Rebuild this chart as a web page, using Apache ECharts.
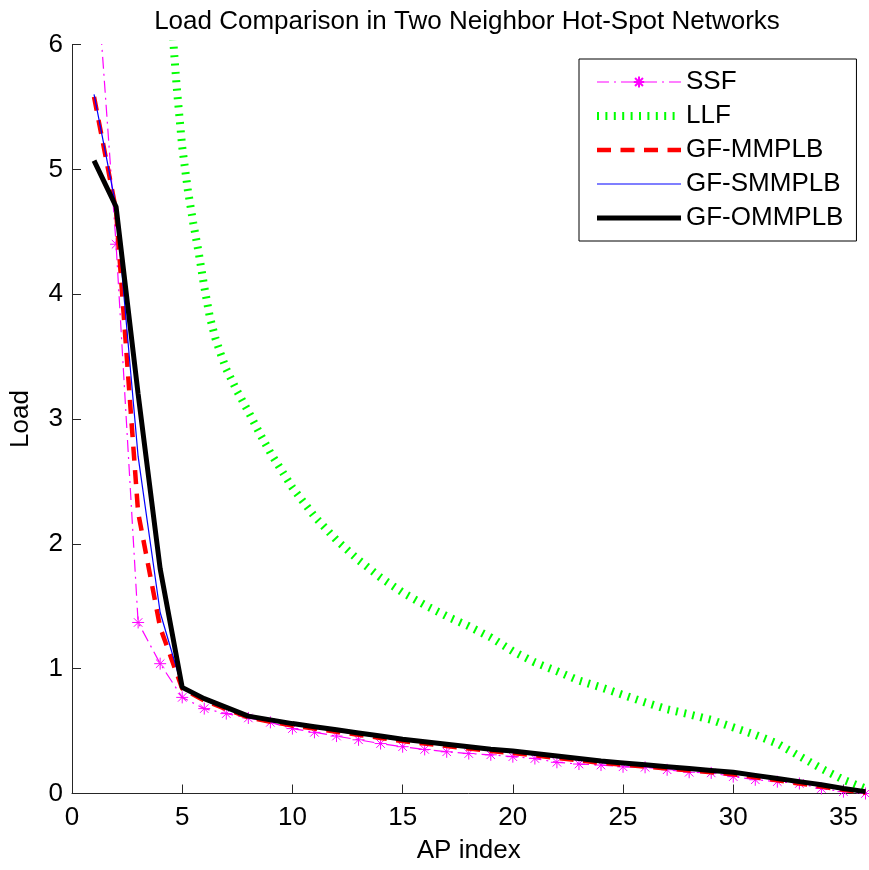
<!DOCTYPE html>
<html>
<head>
<meta charset="utf-8">
<script src="https://cdn.jsdelivr.net/npm/echarts@6/dist/echarts.min.js"></script>
<style>
html,body{margin:0;padding:0;background:#fff;}
#chart{width:869px;height:870px;}
</style>
</head>
<body>
<div id="chart"></div>
<script>
// ---- data ----
const titleText = 'Load Comparison in Two Neighbor Hot-Spot Networks';
const xName = 'AP index';
const yName = 'Load';
const seriesNames = ['SSF', 'LLF', 'GF-MMPLB', 'GF-SMMPLB', 'GF-OMMPLB'];
const xTicks = [0, 5, 10, 15, 20, 25, 30, 35];
const yTicks = [0, 1, 2, 3, 4, 5, 6];

const apIndex = [1,2,3,4,5,6,7,8,9,10,11,12,13,14,15,16,17,18,19,20,21,22,23,24,25,26,27,28,29,30,31,32,33,34,35,36];

const ssf = [6.86,4.40,1.37,1.04,0.77,0.68,0.64,0.605,0.57,0.52,0.49,0.46,0.43,0.40,0.375,0.353,0.334,0.32,0.31,0.295,0.28,0.25,0.236,0.228,0.214,0.21,0.19,0.17,0.165,0.135,0.11,0.095,0.08,0.04,0.015,0.0];

const llfX = [4.5,4.75,5.0,5.25,5.5,5.75,6.0,6.25,6.5,6.75,7.0,7.5,8.0,8.5,9,10,11,12,13,14,15,16,17,18,19,20,21,22,23,24,25,26,27,28,29,30,31,32,33,34,35,36];
const llfY = [6.25,5.66,5.18,4.84,4.57,4.33,4.06,3.82,3.65,3.52,3.40,3.22,3.06,2.89,2.73,2.45,2.22,2.03,1.87,1.73,1.61,1.51,1.42,1.34,1.25,1.14,1.05,0.98,0.905,0.85,0.79,0.73,0.675,0.635,0.59,0.53,0.47,0.40,0.30,0.20,0.11,0.04];

const mmplb = [5.58,4.67,2.25,1.33,0.84,0.745,0.675,0.61,0.575,0.545,0.52,0.495,0.47,0.445,0.42,0.40,0.38,0.36,0.34,0.325,0.305,0.285,0.265,0.245,0.23,0.215,0.20,0.185,0.17,0.155,0.13,0.105,0.08,0.055,0.03,0.005];
const smmplb = [5.60,4.70,2.70,1.45,0.85,0.75,0.68,0.615,0.58,0.55,0.525,0.50,0.475,0.45,0.425,0.405,0.385,0.365,0.345,0.33,0.31,0.29,0.27,0.25,0.235,0.22,0.205,0.19,0.175,0.16,0.135,0.11,0.085,0.06,0.035,0.01];
const ommplb = [5.07,4.70,3.20,1.80,0.85,0.76,0.69,0.62,0.59,0.56,0.535,0.51,0.485,0.46,0.435,0.415,0.395,0.375,0.355,0.34,0.32,0.30,0.28,0.26,0.245,0.23,0.215,0.20,0.185,0.17,0.145,0.12,0.095,0.07,0.04,0.015];

// ---- build ----
const pairs = (xs, ys) => xs.map((x, i) => [x, ys[i]]);
const FONT = '"Liberation Sans", Arial, Helvetica, sans-serif';
const AXIS_COLOR = '#262626';
const asterisk = 'path://M5,0L5,10M0,5L10,5M1.46,1.46L8.54,8.54M8.54,1.46L1.46,8.54';

const legendData = seriesNames.map((n, i) => i === 0
  ? {name: n}
  : {name: n, itemStyle: {opacity: 0}});

const chart = echarts.init(document.getElementById('chart'), null, {renderer: 'canvas'});
chart.setOption({
  animation: false,
  backgroundColor: '#fff',
  title: {
    text: titleText,
    left: 462,
    textAlign: 'center',
    top: 4,
    textStyle: {fontFamily: FONT, fontSize: 26, fontWeight: 'normal', color: '#000'}
  },
  grid: {left: 71, top: 44.5, width: 794.5, height: 749, containLabel: false, show: false},
  legend: {
    orient: 'vertical',
    left: 579,
    top: 59,
    padding: [10, 13, 10, 14],
    itemGap: 8,
    itemWidth: 84,
    itemHeight: 14,
    borderColor: '#000',
    borderWidth: 1,
    backgroundColor: '#fff',
    lineStyle: {width: 'inherit'},
    data: legendData,
    textStyle: {fontFamily: FONT, fontSize: 26, color: '#000', lineHeight: 26}
  },
  xAxis: {
    type: 'value',
    min: 0, max: 36,
    name: xName,
    nameLocation: 'middle',
    nameGap: 44,
    nameTextStyle: {fontFamily: FONT, fontSize: 26, color: '#000'},
    splitLine: {show: false},
    axisLine: {show: true, onZero: false, lineStyle: {color: AXIS_COLOR, width: 1}},
    axisTick: {show: true, inside: true, length: 9, customValues: xTicks, lineStyle: {color: AXIS_COLOR}},
    axisLabel: {show: true, margin: 11, customValues: xTicks, fontFamily: FONT, fontSize: 26, color: '#000'}
  },
  yAxis: {
    type: 'value',
    min: 0, max: 6, interval: 1,
    name: yName,
    nameLocation: 'middle',
    nameGap: 38,
    nameTextStyle: {fontFamily: FONT, fontSize: 26, color: '#000'},
    splitLine: {show: false},
    axisLine: {show: true, onZero: false, lineStyle: {color: AXIS_COLOR, width: 1}},
    axisTick: {show: true, inside: true, length: 9, customValues: yTicks, lineStyle: {color: AXIS_COLOR}},
    axisLabel: {show: true, margin: 9, customValues: yTicks, fontFamily: FONT, fontSize: 26, color: '#000'}
  },
  series: [
    {
      name: seriesNames[0], type: 'line', clip: true,
      data: pairs(apIndex, ssf),
      symbol: asterisk, symbolSize: 12, showSymbol: true,
      itemStyle: {color: '#ff00ff', borderColor: '#ff00ff', borderWidth: 1},
      lineStyle: {color: '#ff00ff', width: 1.2, type: [12, 5, 2, 5]},
      z: 2
    },
    {
      name: seriesNames[1], type: 'line', clip: true,
      data: pairs(llfX, llfY),
      symbol: 'none',
      itemStyle: {color: '#00ff00'},
      lineStyle: {color: '#00ff00', width: 8, type: [2, 6.4], cap: 'butt'},
      z: 3
    },
    {
      name: seriesNames[2], type: 'line', clip: true,
      data: pairs(apIndex, mmplb),
      symbol: 'none',
      itemStyle: {color: '#ff0000'},
      lineStyle: {color: '#ff0000', width: 4.5, type: [14, 9.5], cap: 'butt'},
      z: 4
    },
    {
      name: seriesNames[3], type: 'line', clip: true,
      data: pairs(apIndex, smmplb),
      symbol: 'none',
      itemStyle: {color: '#0000ff'},
      lineStyle: {color: '#0000ff', width: 1.2},
      z: 5
    },
    {
      name: seriesNames[4], type: 'line', clip: true,
      data: pairs(apIndex, ommplb),
      symbol: 'none',
      itemStyle: {color: '#000000'},
      lineStyle: {color: '#000000', width: 5},
      z: 6
    }
  ]
});
</script>
</body>
</html>
